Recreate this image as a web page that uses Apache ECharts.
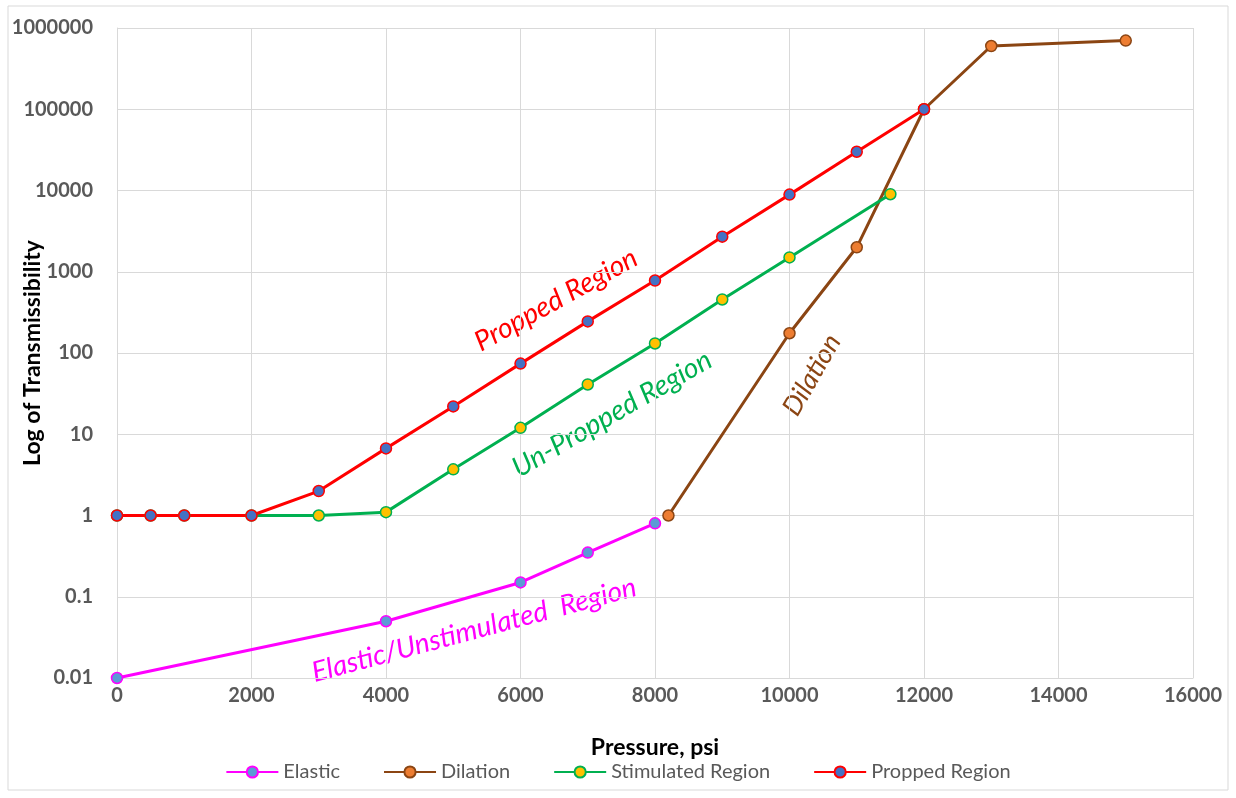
<!DOCTYPE html>
<html><head><meta charset="utf-8">
<script src="https://cdn.jsdelivr.net/npm/echarts@6/dist/echarts.min.js"></script>
<style>html,body{margin:0;padding:0;background:#fff}#c{width:1236px;height:798px}</style>
</head><body><div id="c"></div>
<script>
const elasticX = [0, 4000, 6000, 7000, 8000];
const elasticY = [0.01, 0.05, 0.15, 0.35, 0.8];
const dilationX = [8200, 10000, 11000, 12000, 13000, 15000];
const dilationY = [1, 175, 2000, 100000, 600000, 700000];
const stimX = [0, 500, 1000, 2000, 3000, 4000, 5000, 6000, 7000, 8000, 9000, 10000, 11500];
const stimY = [1, 1, 1, 1, 1, 1.1, 3.7, 12, 41, 131, 456, 1500, 9000];
const propX = [0, 500, 1000, 2000, 3000, 4000, 5000, 6000, 7000, 8000, 9000, 10000, 11000, 12000];
const propY = [1, 1, 1, 1, 2, 6.7, 22, 74, 245, 780, 2700, 8900, 30000, 100000];
const xTicks = [0, 2000, 4000, 6000, 8000, 10000, 12000, 14000, 16000];
const yTicks = ['0.01', '0.1', '1', '10', '100', '1000', '10000', '100000', '1000000'];

const FONT = 'Lato';
const zip = (xs, ys) => xs.map((x, i) => [x, ys[i]]);
function mk(name, xs, ys, line, fill, border) {
  return {
    name, type: 'line', data: zip(xs, ys), symbol: 'circle', symbolSize: 11,
    lineStyle: { color: line, width: 3 },
    itemStyle: { color: fill, borderColor: border, borderWidth: 1.5 },
    emphasis: { disabled: true }
  };
}
const chart = echarts.init(document.getElementById('c'));
chart.setOption({
  animation: false,
  grid: { left: 117, right: 43, top: 28, bottom: 120, containLabel: false, outerBoundsMode: 'none' },
  xAxis: {
    type: 'value', min: 0, max: 16000, interval: 2000,
    name: 'Pressure, psi', nameLocation: 'middle', nameGap: 58, nameMoveOverlap: false,
    nameTextStyle: { fontFamily: FONT, fontWeight: 'bold', fontSize: 23, color: '#000' },
    axisLine: { show: true, lineStyle: { color: '#d9d9d9' } },
    axisTick: { show: false },
    axisLabel: { fontFamily: FONT, fontWeight: 'bold', fontSize: 20, color: '#595959', margin: 8,
      formatter: v => xTicks.includes(v) ? String(v) : '' },
    splitLine: { show: true, lineStyle: { color: '#d9d9d9' } }
  },
  yAxis: {
    type: 'log', logBase: 10, min: 0.01, max: 1000000,
    name: 'Log of Transmissibility', nameLocation: 'middle', nameGap: 73, nameMoveOverlap: false,
    nameTextStyle: { fontFamily: FONT, fontWeight: 'bold', fontSize: 23, color: '#000' },
    axisLine: { show: true, lineStyle: { color: '#d9d9d9' } },
    axisTick: { show: false },
    axisLabel: { fontFamily: FONT, fontWeight: 'bold', fontSize: 20, color: '#595959', margin: 24,
      formatter: v => { const e = Math.round(Math.log10(v)); return yTicks[e + 2] || ''; } },
    splitLine: { show: true, lineStyle: { color: '#d9d9d9' } }
  },
  legend: {
    bottom: 11, left: 'center', itemWidth: 52, itemHeight: 14, itemGap: 43,
    textStyle: { fontFamily: FONT, fontSize: 20, color: '#595959' },
    data: ['Elastic', 'Dilation', 'Stimulated Region', 'Propped Region']
  },
  series: [
    mk('Elastic', elasticX, elasticY, '#FF00FF', '#5B9BD5', '#FF00FF'),
    mk('Dilation', dilationX, dilationY, '#8B4513', '#ED7D31', '#8B4513'),
    mk('Stimulated Region', stimX, stimY, '#00B050', '#FFC000', '#00B050'),
    mk('Propped Region', propX, propY, '#FF0000', '#4472C4', '#FF0000')
  ],
  graphic: [
    { type: 'rect', shape: { x: 8, y: 6, width: 1220, height: 784 }, style: { fill: 'none', stroke: '#d9d9d9', lineWidth: 1 }, silent: true },
    { type: 'text', x: 556, y: 300, rotation: 29 * Math.PI / 180, style: { text: 'Propped Region', fill: '#FF0000', font: 'italic 28px Lato', align: 'center', verticalAlign: 'middle' } },
    { type: 'text', x: 612, y: 414, rotation: 30 * Math.PI / 180, style: { text: 'Un-Propped Region', fill: '#00B050', font: 'italic 28px Lato', align: 'center', verticalAlign: 'middle' } },
    { type: 'text', x: 812, y: 375, rotation: 60 * Math.PI / 180, style: { text: 'Dilation', fill: '#8B4513', font: 'italic 27px Lato', align: 'center', verticalAlign: 'middle' } },
    { type: 'text', x: 474, y: 630, rotation: 15 * Math.PI / 180, style: { text: 'Elastic/Unstimulated  Region', fill: '#FF00FF', font: 'italic 28px Lato', align: 'center', verticalAlign: 'middle' } }
  ]
});
</script></body></html>
